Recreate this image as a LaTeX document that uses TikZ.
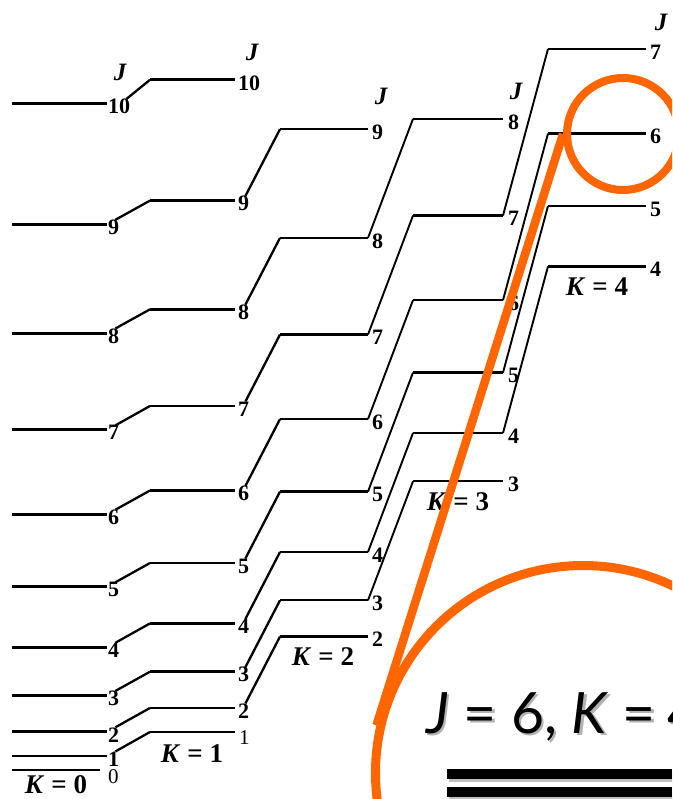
\documentclass[tikz,border=0pt]{standalone}
\usepackage{fontspec}
\setmainfont{Liberation Serif}
\newfontfamily\slidefont{Lato}
\definecolor{zoomorange}{RGB}{255,102,0}
\begin{document}
\begin{tikzpicture}[x=1pt,y=-1pt,
  levl/.style={line width=2.8pt},
  levr/.style={line width=2.3pt},
  slantl/.style={line width=2.3pt},
  slantr/.style={line width=1.9pt},
  jlab/.style={font=\fontsize{22}{22}\selectfont\bfseries, inner sep=0pt, anchor=west},
  jlabthin/.style={font=\fontsize{21}{21}\selectfont, inner sep=0pt, anchor=west},
  jhead/.style={font=\fontsize{25}{25}\selectfont\bfseries\itshape, inner sep=0pt},
  klab/.style={font=\fontsize{27}{27}\selectfont\bfseries, inner sep=0pt},
  zoomring/.style={circle, draw=zoomorange, inner sep=0pt},
  orangeline/.style={draw=zoomorange, line width=8.5pt},
  bigtext/.style={font=\slidefont\fontsize{57}{57}\selectfont, inner sep=0pt, anchor=base west}]
\clip (0,0) rectangle (672,799);
\fill[white] (0,0) rectangle (672,799);
% ---- energy levels ----
\foreach \K/\xs/\xe/\dx/\Jmin/\Jmax/\st in {0/12/107/1/1/10/levl, 1/150/235/3/2/10/levl, 2/280/368/4/2/9/levr, 3/413/503/5/3/8/levr, 4/548/646/4/4/7/levr}{
  \foreach \J in {\Jmin,...,\Jmax}{
    \pgfmathsetmacro{\yy}{768-6.04*\J*(\J+1)-23.8*\K*\K}
    \pgfmathsetmacro{\xl}{\xe+\dx}
    \pgfmathsetmacro{\yl}{\yy+3}
    \coordinate (s\K-\J) at (\xs,\yy);
    \coordinate (e\K-\J) at (\xe,\yy);
    \draw[\st] (s\K-\J) -- (e\K-\J);
    \node[jlab] (l\K-\J) at (\xl,\yl) {\J};
  }
}
% special lowest levels
\coordinate (s0-0) at (12,770);
\coordinate (e0-0) at (100,770);
\draw[levl] (s0-0) -- (e0-0);
\node[jlabthin] (l0-0) at (108,777) {0};
\coordinate (s1-1) at (150,732);
\coordinate (e1-1) at (235,732);
\draw[levl] (s1-1) -- (e1-1);
\node[jlabthin] (l1-1) at (239,738) {1};
% ---- slants ----
\foreach \K/\Kp/\Jmin/\Jmax in {0/1/1/10, 1/2/2/9}{
  \foreach \J in {\Jmin,...,\Jmax}{
    \draw[slantl] ([xshift=-4pt]l\K-\J.north east) -- (s\Kp-\J);
  }
}
\foreach \K/\Kp/\Jmin/\Jmax in {2/3/3/8, 3/4/4/7}{
  \foreach \J in {\Jmin,...,\Jmax}{
    \draw[slantr] (e\K-\J) -- (s\Kp-\J);
  }
}
% ---- J headers ----
\node[jhead] (j0) at (120,72) {J};
\node[jhead] (j1) at (252,52) {J};
\node[jhead] (j2) at (381,96) {J};
\node[jhead] (j3) at (516,91) {J};
\node[jhead] (j4) at (661,22) {J};
% ---- K labels ----
\node[klab] (k0) at (56,785) {\textit{K}\kern7pt=\kern7pt0};
\node[klab] (k1) at (192,754) {\textit{K}\kern7pt=\kern7pt1};
\node[klab] (k2) at (323,657) {\textit{K}\kern7pt=\kern7pt2};
\node[klab] (k3) at (458,502) {\textit{K}\kern7pt=\kern7pt3};
\node[klab] (k4) at (597,287) {\textit{K}\kern7pt=\kern7pt4};
% ---- zoom inset ----
\node[bigtext, text=black!30] (tshadow) at (428.5,735.5) {\textit{J} = 6, \textit{K}\hspace{-1pt} = \hspace{-3pt}4};
\node[bigtext] (title) at (426,733) {\textit{J} = 6, \textit{K}\hspace{-1pt} = \hspace{-3pt}4};
\fill[black!25] (449,771.5) rectangle (674,781.5);
\fill[black!25] (449,789.5) rectangle (674,799.5);
\fill[black] (447,769) rectangle (672,779);
\fill[black] (447,787) rectangle (672,797);
\node[zoomring, line width=8pt, minimum size=112pt] (zsmall) at (623,134) {};
\node[zoomring, line width=9pt, minimum size=415pt] (zbig) at (583,773) {};
\draw[orangeline] (zsmall.west) -- (zbig.167);
\end{tikzpicture}
\end{document}
